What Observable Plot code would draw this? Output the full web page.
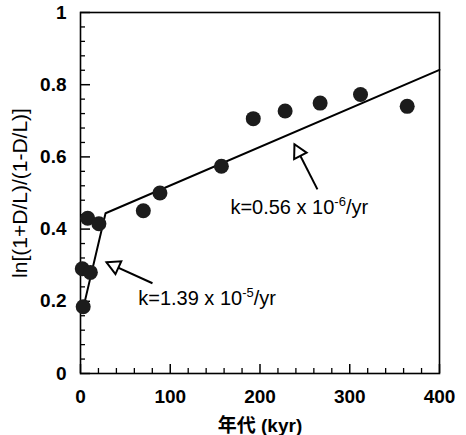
<!DOCTYPE html>
<html><head><meta charset="utf-8">
<script src="https://cdn.jsdelivr.net/npm/d3@7"></script>
<script src="https://cdn.jsdelivr.net/npm/@observablehq/plot@0.6"></script>
<style>
html,body{margin:0;padding:0;background:#fff;overflow:hidden}
svg [aria-label="x-axis tick label"] text, svg [aria-label="y-axis tick label"] text {font-weight:bold;font-size:19px}
</style></head><body><div id="chart"></div>
<script>
// --- data ---
const ageKyr  = [3, 2, 11, 8, 20.5, 70, 88.5, 157, 192.5, 228, 267, 312, 364];
const lnRatio = [0.185, 0.29, 0.28, 0.43, 0.415, 0.451, 0.50, 0.574, 0.706, 0.727, 0.749, 0.773, 0.740];
// fitted two-segment line (start, break, end)
const fitAge   = [2, 27.9, 400];
const fitValue = [0.17, 0.444, 0.841];
// ticks
const xTicks = [0, 100, 200, 300, 400];
const xMinorTicks = [20, 40, 60, 80, 120, 140, 160, 180, 220, 240, 260, 280, 320, 340, 360, 380];
const yTicks = [0, 0.2, 0.4, 0.6, 0.8, 1];
const yTickLabels = ["0", "0.2", "0.4", "0.6", "0.8", "1"];
const yMinorTicks = [0.04, 0.08, 0.12, 0.16, 0.24, 0.28, 0.32, 0.36, 0.44, 0.48, 0.52, 0.56, 0.64, 0.68, 0.72, 0.76, 0.84, 0.88, 0.92, 0.96];
// annotations
const rateCoef = ["0.56", "1.39"];
const rateExp  = ["-6", "-5"];
const labelAge   = [167, 64.3];
const labelValue = [0.46, 0.2065];
const arrowFromAge   = [264, 80.2];
const arrowFromValue = [0.510, 0.250];
const arrowToAge     = [238.4, 29];
const arrowToValue   = [0.635, 0.308];
const xLabel = "年代 (kyr)";
const yLabel = "ln[(1+D/L)/(1-D/L)]";

// --- layout ---
const W = 466, H = 435, mL = 80, mR = 27, mT = 12, mB = 62;
const plotW = W - mL - mR, plotH = H - mT - mB;
const xs = d3.scaleLinear([0, 400], [mL, W - mR]);
const ys = d3.scaleLinear([0, 1], [H - mB, mT]);

function headSymbol(i) {
  const ang = Math.atan2(ys(arrowToValue[i]) - ys(arrowFromValue[i]), xs(arrowToAge[i]) - xs(arrowFromAge[i]));
  const ux = Math.cos(ang), uy = Math.sin(ang), px = -uy, py = ux, L = 13, w = 7;
  return {draw(ctx) {
    ctx.moveTo(0, 0);
    ctx.lineTo(-ux * L + px * w, -uy * L + py * w);
    ctx.lineTo(-ux * L - px * w, -uy * L - py * w);
    ctx.closePath();
  }};
}

const pts = ageKyr.map((a, i) => ({age: a, v: lnRatio[i]}));
const fit = fitAge.map((a, i) => ({age: a, v: fitValue[i]}));
const ann = rateCoef.map((c, i) => ({
  x: labelAge[i], y: labelValue[i], text: `k=${c} x 10${rateExp[i]}/yr`,
  x1: arrowFromAge[i], y1: arrowFromValue[i], x2: arrowToAge[i], y2: arrowToValue[i]
}));

const font = '"Liberation Sans", Arial, Helvetica, "Noto Sans CJK JP", sans-serif';

const plot = Plot.plot({
  width: W, height: H,
  marginLeft: mL, marginRight: mR, marginTop: mT, marginBottom: mB,
  style: {fontFamily: font, fontSize: "19px", color: "black", background: "white"},
  x: {domain: [0, 400]},
  y: {domain: [0, 1]},
  marks: [
    Plot.tickX(xTicks, {x: d => d, insetTop: plotH - 9, stroke: "black", strokeWidth: 1.5}),
    Plot.tickX(xMinorTicks, {x: d => d, insetTop: plotH - 5, stroke: "black", strokeWidth: 1.3}),
    Plot.tickY(yTicks, {y: d => d, insetRight: plotW - 10, stroke: "black", strokeWidth: 1.5}),
    Plot.tickY(yMinorTicks, {y: d => d, insetRight: plotW - 5, stroke: "black", strokeWidth: 1.3}),
    Plot.frame({stroke: "black", strokeWidth: 1.6}),
    Plot.axisX(xTicks, {tickSize: 0, tickPadding: 16, label: null, fontWeight: "bold", fontSize: 19}),
    Plot.axisY(yTicks, {tickSize: 0, tickPadding: 14, label: null, fontWeight: "bold", fontSize: 19,
      tickFormat: d => yTickLabels[yTicks.indexOf(d)]}),
    Plot.text([xLabel], {frameAnchor: "bottom", dy: 52, fontWeight: "bold", fontSize: 19, lineAnchor: "middle", textAnchor: "middle"}),
    Plot.text([yLabel], {frameAnchor: "left", rotate: -90, dx: -60, fontSize: 21, lineAnchor: "middle", textAnchor: "middle"}),
    Plot.line(fit, {x: "age", y: "v", stroke: "black", strokeWidth: 2}),
    Plot.dot(pts, {x: "age", y: "v", r: 7.5, fill: "#1c1c1c", stroke: "none"}),
    Plot.link(ann, {x1: "x1", y1: "y1", x2: "x2", y2: "y2", stroke: "black", strokeWidth: 2}),
    Plot.dot([ann[0]], {x: "x2", y: "y2", symbol: headSymbol(0), fill: "white", stroke: "black", strokeWidth: 2}),
    Plot.dot([ann[1]], {x: "x2", y: "y2", symbol: headSymbol(1), fill: "white", stroke: "black", strokeWidth: 2}),
    Plot.text(ann, {x: "x", y: "y", text: "text", textAnchor: "start", lineAnchor: "middle", fontSize: 20})
  ]
});

// render exponents as superscripts
d3.select(plot).selectAll("text").each(function() {
  const m = /^(k=.* x 10)(-\d)(\/yr)$/.exec(this.textContent);
  if (!m) return;
  const t = d3.select(this);
  t.text(null);
  t.append("tspan").text(m[1]);
  t.append("tspan").attr("dy", -8).attr("font-size", 13).text(m[2]);
  t.append("tspan").attr("dy", 8).text(m[3]);
});

document.getElementById("chart").appendChild(plot);
</script>
</body></html>
